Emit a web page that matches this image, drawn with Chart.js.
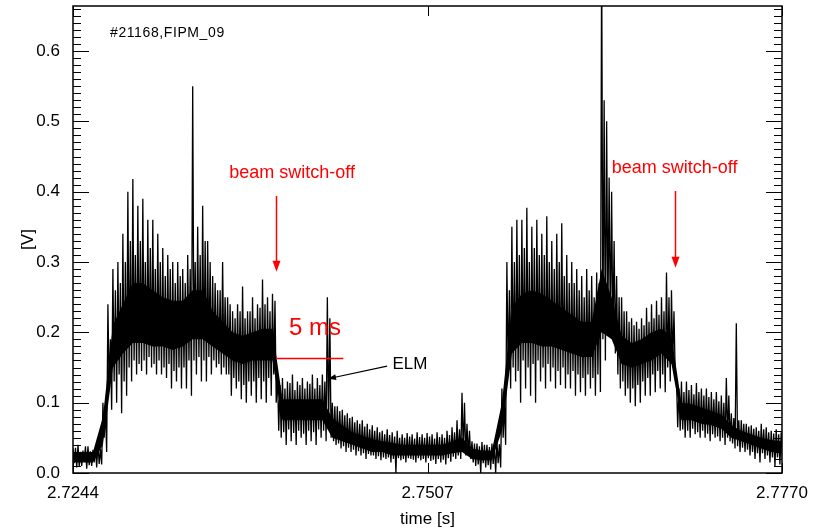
<!DOCTYPE html>
<html>
<head>
<meta charset="utf-8">
<script src="https://cdn.jsdelivr.net/npm/chart.js@4.4.1/dist/chart.umd.min.js"></script>
<style>
  html, body { margin: 0; padding: 0; background: #fff; }
  #wrap { width: 817px; height: 530px; }
</style>
</head>
<body>
<div id="wrap"><canvas id="fipm" width="817" height="530"></canvas></div>
<script>
// sampling grid of the probe signal (s)
const T0 = 2.7244;
const SAMPLE_STEP = 0.00037;
const CORE_STEP = 0.00074;

// outer swing of each oscillation (V)
const peakV = [
  0.035, 0.040, 0.032, 0.038, 0.033, 0.042, 0.100, 0.240, 0.290, 0.300,
  0.340, 0.400, 0.418, 0.380, 0.390, 0.360, 0.360, 0.340, 0.320, 0.310,
  0.300, 0.300, 0.290, 0.310, 0.550, 0.350, 0.380, 0.330, 0.280, 0.260,
  0.300, 0.250, 0.230, 0.240, 0.265, 0.230, 0.250, 0.240, 0.275, 0.250,
  0.255, 0.140, 0.135, 0.130, 0.140, 0.130, 0.135, 0.130, 0.140, 0.135,
  0.140, 0.250, 0.100, 0.095, 0.090, 0.085, 0.080, 0.075, 0.075, 0.070,
  0.068, 0.065, 0.060, 0.062, 0.058, 0.060, 0.055, 0.057, 0.055, 0.058,
  0.055, 0.057, 0.055, 0.058, 0.055, 0.060, 0.065, 0.075, 0.114, 0.070,
  0.045, 0.042, 0.044, 0.040, 0.042, 0.045, 0.120, 0.300, 0.350, 0.360,
  0.360, 0.377, 0.350, 0.360, 0.340, 0.365, 0.330, 0.340, 0.355, 0.310,
  0.300, 0.290, 0.280, 0.290, 0.280, 0.285, 0.750, 0.500, 0.400, 0.280,
  0.250, 0.230, 0.220, 0.215, 0.220, 0.235, 0.240, 0.245, 0.250, 0.285,
  0.260, 0.135, 0.130, 0.130, 0.125, 0.128, 0.120, 0.120, 0.115, 0.115,
  0.110, 0.135, 0.085, 0.213, 0.075, 0.070, 0.068, 0.065, 0.070, 0.065,
  0.060, 0.062, 0.058
];
const troughV = [
  0.008, 0.010, 0.006, 0.010, 0.008, 0.012, 0.030, 0.090, 0.100, 0.085,
  0.110, 0.130, 0.140, 0.145, 0.140, 0.150, 0.140, 0.140, 0.135, 0.120,
  0.130, 0.120, 0.120, 0.110, 0.140, 0.130, 0.130, 0.140, 0.150, 0.140,
  0.140, 0.110, 0.120, 0.105, 0.100, 0.110, 0.100, 0.105, 0.100, 0.110,
  0.100, 0.050, 0.040, 0.045, 0.040, 0.050, 0.040, 0.045, 0.040, 0.050,
  0.045, 0.050, 0.040, 0.035, 0.030, 0.030, 0.025, 0.025, 0.020, 0.025,
  0.020, 0.018, 0.020, 0.015, 0.000, 0.018, 0.015, 0.020, 0.015, 0.018,
  0.015, 0.017, 0.013, 0.015, 0.012, 0.016, 0.020, 0.020, 0.025, 0.020,
  0.010, 0.000, 0.008, 0.005, 0.000, 0.008, 0.040, 0.120, 0.130, 0.100,
  0.120, 0.110, 0.100, 0.130, 0.120, 0.130, 0.120, 0.125, 0.120, 0.120,
  0.110, 0.115, 0.110, 0.120, 0.110, 0.115, 0.160, 0.200, 0.170, 0.120,
  0.110, 0.100, 0.095, 0.100, 0.110, 0.110, 0.115, 0.120, 0.115, 0.130,
  0.140, 0.060, 0.050, 0.050, 0.055, 0.050, 0.050, 0.045, 0.050, 0.045,
  0.040, 0.045, 0.035, 0.030, 0.030, 0.025, 0.020, 0.015, 0.020, 0.015,
  0.010, 0.012, 0.010
];

// inner (smaller) swing between the outer ones (V)
const innerPeakV = [
  0.036, 0.030, 0.038, 0.031, 0.036, 0.034, 0.090, 0.190, 0.260, 0.270,
  0.300, 0.330, 0.310, 0.330, 0.300, 0.320, 0.290, 0.300, 0.280, 0.290,
  0.270, 0.280, 0.270, 0.290, 0.300, 0.310, 0.330, 0.300, 0.270, 0.260,
  0.250, 0.240, 0.220, 0.230, 0.220, 0.230, 0.220, 0.235, 0.240, 0.230,
  0.245, 0.125, 0.120, 0.128, 0.118, 0.125, 0.120, 0.127, 0.120, 0.125,
  0.130, 0.220, 0.095, 0.088, 0.082, 0.078, 0.072, 0.070, 0.066, 0.062,
  0.060, 0.058, 0.055, 0.054, 0.052, 0.050, 0.050, 0.052, 0.049, 0.051,
  0.050, 0.052, 0.049, 0.051, 0.050, 0.054, 0.058, 0.062, 0.100, 0.060,
  0.042, 0.038, 0.040, 0.037, 0.039, 0.041, 0.100, 0.260, 0.300, 0.310,
  0.320, 0.300, 0.320, 0.310, 0.310, 0.300, 0.290, 0.300, 0.280, 0.270,
  0.270, 0.260, 0.250, 0.260, 0.250, 0.270, 0.530, 0.420, 0.330, 0.250,
  0.230, 0.215, 0.210, 0.205, 0.210, 0.215, 0.220, 0.225, 0.230, 0.250,
  0.230, 0.120, 0.115, 0.118, 0.112, 0.115, 0.110, 0.108, 0.105, 0.102,
  0.100, 0.110, 0.078, 0.075, 0.070, 0.066, 0.063, 0.060, 0.062, 0.058,
  0.056, 0.055, 0.053
];
const innerTroughV = [
  0.014, 0.010, 0.016, 0.011, 0.015, 0.013, 0.050, 0.120, 0.130, 0.140,
  0.130, 0.150, 0.160, 0.155, 0.160, 0.165, 0.155, 0.160, 0.150, 0.155,
  0.145, 0.150, 0.150, 0.160, 0.160, 0.165, 0.160, 0.165, 0.160, 0.155,
  0.150, 0.140, 0.135, 0.130, 0.125, 0.130, 0.130, 0.135, 0.130, 0.135,
  0.140, 0.060, 0.058, 0.062, 0.057, 0.060, 0.056, 0.060, 0.058, 0.062,
  0.060, 0.062, 0.045, 0.042, 0.038, 0.036, 0.033, 0.031, 0.028, 0.027,
  0.025, 0.024, 0.022, 0.022, 0.020, 0.021, 0.020, 0.021, 0.019, 0.021,
  0.020, 0.021, 0.019, 0.020, 0.019, 0.021, 0.023, 0.025, 0.030, 0.025,
  0.015, 0.012, 0.014, 0.011, 0.013, 0.014, 0.050, 0.140, 0.150, 0.145,
  0.160, 0.150, 0.155, 0.160, 0.150, 0.155, 0.150, 0.145, 0.150, 0.140,
  0.145, 0.140, 0.135, 0.140, 0.135, 0.140, 0.190, 0.220, 0.190, 0.140,
  0.130, 0.120, 0.120, 0.125, 0.130, 0.135, 0.140, 0.145, 0.140, 0.150,
  0.155, 0.065, 0.062, 0.060, 0.063, 0.058, 0.060, 0.056, 0.055, 0.052,
  0.050, 0.050, 0.042, 0.038, 0.036, 0.033, 0.030, 0.028, 0.028, 0.025,
  0.022, 0.022, 0.020
];

// dense band where the trace is solid black (V)
const coreLow = [
  0.015, 0.015, 0.015, 0.040, 0.150, 0.170, 0.185, 0.185, 0.180, 0.180,
  0.175, 0.180, 0.190, 0.190, 0.180, 0.170, 0.160, 0.155, 0.160, 0.160,
  0.160, 0.075, 0.075, 0.075, 0.075, 0.075, 0.050, 0.045, 0.040, 0.035,
  0.030, 0.030, 0.025, 0.025, 0.025, 0.025, 0.025, 0.025, 0.028, 0.030,
  0.020, 0.018, 0.018, 0.060, 0.170, 0.185, 0.185, 0.180, 0.180, 0.175,
  0.170, 0.165, 0.165, 0.200, 0.190, 0.155, 0.150, 0.155, 0.160, 0.170,
  0.155, 0.075, 0.075, 0.070, 0.068, 0.063, 0.050, 0.045, 0.040, 0.035,
  0.030, 0.030
];
const coreHigh = [
  0.030, 0.030, 0.030, 0.080, 0.210, 0.240, 0.270, 0.270, 0.260, 0.250,
  0.245, 0.245, 0.260, 0.260, 0.230, 0.215, 0.200, 0.195, 0.200, 0.205,
  0.205, 0.105, 0.105, 0.105, 0.105, 0.105, 0.078, 0.068, 0.058, 0.053,
  0.048, 0.045, 0.043, 0.040, 0.040, 0.040, 0.040, 0.040, 0.045, 0.050,
  0.035, 0.032, 0.032, 0.100, 0.235, 0.255, 0.260, 0.255, 0.245, 0.235,
  0.225, 0.215, 0.215, 0.290, 0.250, 0.195, 0.185, 0.190, 0.200, 0.205,
  0.195, 0.100, 0.098, 0.093, 0.088, 0.083, 0.068, 0.060, 0.055, 0.050,
  0.047, 0.045
];

const xTickValues = [2.7244, 2.7507, 2.7770];
const yTickValues = [0, 0.1, 0.2, 0.3, 0.4, 0.5, 0.6];

// annotations (time s, value V)
const switchOffTimes = [2.73946, 2.76906];
const switchOffArrowTop = [0.394, 0.401];
const switchOffArrowTip = [0.286, 0.292];
const switchOffLabelPos = [[2.74065, 0.427], [2.76903, 0.434]];
const spanStart = 2.73946, spanEnd = 2.74446, spanLevel = 0.1636;
const spanLabelPos = [2.74235, 0.205];
const elmLabelPos = [2.74940, 0.154];
const elmArrowFrom = [2.74770, 0.152], elmArrowTo = [2.74332, 0.134];

const FONT = "'Liberation Sans', Arial, Helvetica, sans-serif";

const signal = [];
peakV.forEach((v, i) => {
  signal.push({ x: T0 + i * SAMPLE_STEP, y: v });
  signal.push({ x: T0 + (i + 0.25) * SAMPLE_STEP, y: innerTroughV[i] });
  signal.push({ x: T0 + (i + 0.5) * SAMPLE_STEP, y: innerPeakV[i] });
  signal.push({ x: T0 + (i + 0.75) * SAMPLE_STEP, y: troughV[i] });
});
const bandLow = coreLow.map((v, j) => ({ x: T0 + j * CORE_STEP, y: v }));
const bandHigh = coreHigh.map((v, j) => ({ x: T0 + j * CORE_STEP, y: v }));

function arrowHead(ctx, fx, fy, tx, ty, len, half) {
  const ang = Math.atan2(ty - fy, tx - fx);
  ctx.beginPath();
  ctx.moveTo(tx, ty);
  ctx.lineTo(tx - len * Math.cos(ang) + half * Math.sin(ang), ty - len * Math.sin(ang) - half * Math.cos(ang));
  ctx.lineTo(tx - len * Math.cos(ang) - half * Math.sin(ang), ty - len * Math.sin(ang) + half * Math.cos(ang));
  ctx.closePath();
  ctx.fill();
}

const frame = {
  id: 'frame',
  afterDatasetsDraw(chart) {
    const { ctx, chartArea: a, scales: { x, y } } = chart;
    ctx.save();
    ctx.strokeStyle = '#000';
    ctx.lineWidth = 1.5;
    ctx.strokeRect(a.left, a.top, a.right - a.left, a.bottom - a.top);

    // inward ticks, left and right
    ctx.lineWidth = 1;
    ctx.beginPath();
    for (let k = 0; k <= 66; k++) {
      const py = Math.round(y.getPixelForValue(k / 100)) + 0.5;
      if (py < a.top) break;
      const len = k % 10 === 0 ? 16 : 8;
      ctx.moveTo(a.left, py); ctx.lineTo(a.left + len, py);
      ctx.moveTo(a.right, py); ctx.lineTo(a.right - len, py);
    }
    xTickValues.forEach(t => {
      const px = Math.round(x.getPixelForValue(t)) + 0.5;
      ctx.moveTo(px, a.bottom); ctx.lineTo(px, a.bottom - 10);
      ctx.moveTo(px, a.top); ctx.lineTo(px, a.top + 10);
    });
    ctx.stroke();

    // shot label
    ctx.fillStyle = '#000';
    ctx.font = '14px ' + FONT;
    ctx.letterSpacing = '0.6px';
    ctx.textAlign = 'left';
    ctx.textBaseline = 'middle';
    ctx.fillText('#21168,FIPM_09', a.left + 37, a.top + 27);
    ctx.letterSpacing = '0px';

    // beam switch-off labels and arrows
    ctx.fillStyle = '#ff0000';
    ctx.strokeStyle = '#ff0000';
    ctx.font = '18px ' + FONT;
    ctx.textAlign = 'center';
    switchOffTimes.forEach((t, i) => {
      const [lt, lv] = switchOffLabelPos[i];
      ctx.fillText('beam switch-off', x.getPixelForValue(lt), y.getPixelForValue(lv));
      const px = Math.round(x.getPixelForValue(t)) + 0.5;
      const y0 = y.getPixelForValue(switchOffArrowTop[i]);
      const y1 = y.getPixelForValue(switchOffArrowTip[i]);
      ctx.lineWidth = 1.5;
      ctx.beginPath(); ctx.moveTo(px, y0); ctx.lineTo(px, y1 - 8); ctx.stroke();
      arrowHead(ctx, px, y0, px, y1, 11, 4);
    });

    // 5 ms span
    ctx.lineWidth = 1.5;
    const sy = Math.round(y.getPixelForValue(spanLevel)) + 0.5;
    ctx.beginPath();
    ctx.moveTo(x.getPixelForValue(spanStart), sy);
    ctx.lineTo(x.getPixelForValue(spanEnd), sy);
    ctx.stroke();
    ctx.font = '24px ' + FONT;
    ctx.fillText('5 ms', x.getPixelForValue(spanLabelPos[0]), y.getPixelForValue(spanLabelPos[1]));

    // ELM label and arrow
    ctx.fillStyle = '#000';
    ctx.strokeStyle = '#000';
    ctx.font = '17px ' + FONT;
    ctx.fillText('ELM', x.getPixelForValue(elmLabelPos[0]), y.getPixelForValue(elmLabelPos[1]));
    const fx = x.getPixelForValue(elmArrowFrom[0]), fy = y.getPixelForValue(elmArrowFrom[1]);
    const tx = x.getPixelForValue(elmArrowTo[0]), ty = y.getPixelForValue(elmArrowTo[1]);
    ctx.lineWidth = 1.2;
    ctx.beginPath(); ctx.moveTo(fx, fy); ctx.lineTo(tx, ty); ctx.stroke();
    arrowHead(ctx, fx, fy, tx, ty, 8, 3);
    ctx.restore();
  }
};

new Chart(document.getElementById('fipm'), {
  type: 'line',
  data: {
    datasets: [
      { data: bandLow, borderWidth: 0, pointRadius: 0, fill: false, borderColor: 'rgba(0,0,0,0)' },
      { data: bandHigh, borderWidth: 0, pointRadius: 0, fill: '-1', backgroundColor: '#000', borderColor: 'rgba(0,0,0,0)' },
      { data: signal, borderWidth: 1.3, borderColor: '#000', pointRadius: 0, fill: false, tension: 0 }
    ]
  },
  options: {
    responsive: false,
    animation: false,
    events: [],
    layout: { padding: { top: 6, right: 35, left: 0, bottom: 0 } },
    plugins: { legend: { display: false }, tooltip: { enabled: false } },
    scales: {
      x: {
        type: 'linear',
        min: 2.7244,
        max: 2.7770,
        afterBuildTicks: s => { s.ticks = xTickValues.map(v => ({ value: v })); },
        afterFit: s => { s.height = 57; s.paddingLeft = 0; s.paddingRight = 0; },
        grid: { display: false, drawTicks: false },
        border: { display: false },
        ticks: {
          color: '#000',
          font: { family: FONT, size: 17 },
          padding: 10,
          maxRotation: 0,
          autoSkip: false,
          callback: v => v.toFixed(4)
        },
        title: {
          display: true, text: 'time [s]', color: '#000',
          font: { family: FONT, size: 17 },
          padding: { top: 0, bottom: 0 }
        }
      },
      y: {
        min: 0,
        max: 0.664,
        afterBuildTicks: s => { s.ticks = yTickValues.map(v => ({ value: v })); },
        afterFit: s => { s.width = 73; s.paddingTop = 0; s.paddingBottom = 0; },
        grid: { display: false, drawTicks: false },
        border: { display: false },
        ticks: {
          color: '#000',
          font: { family: FONT, size: 17 },
          padding: 13,
          callback: v => v.toFixed(1)
        },
        title: {
          display: true, text: '[V]', color: '#000',
          font: { family: FONT, size: 17 },
          padding: { top: 18, bottom: 0 }
        }
      }
    }
  },
  plugins: [frame]
});
</script>
</body>
</html>
